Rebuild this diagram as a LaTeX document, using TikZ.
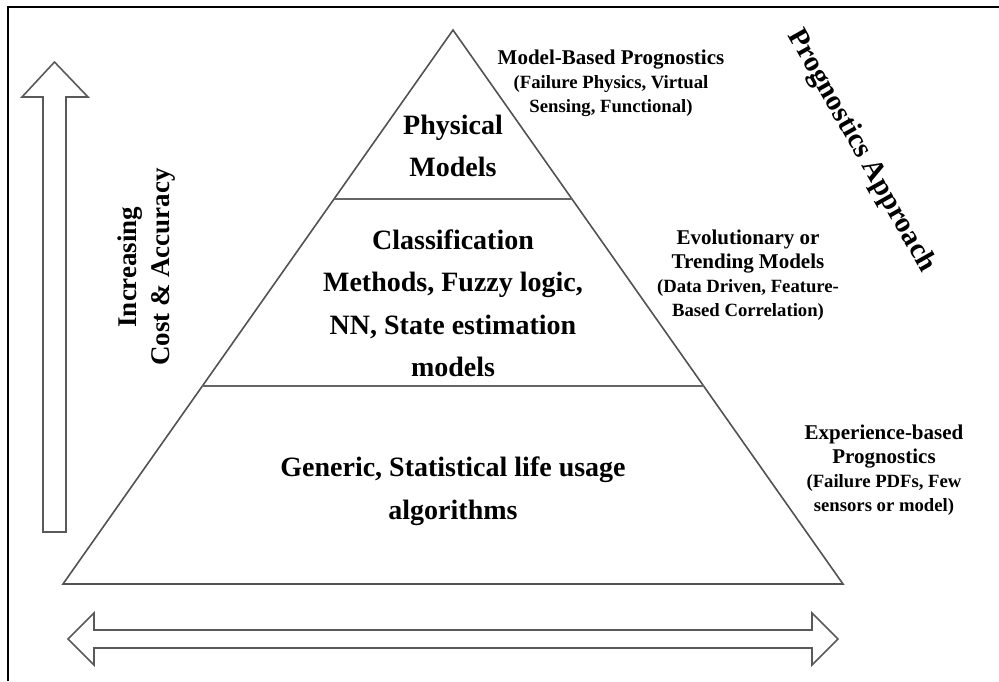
\documentclass[tikz,border=0pt]{standalone}
\usepackage{fontspec}
\setmainfont{Liberation Serif}
\usetikzlibrary{calc}
\newcommand\noteheadfont{\bfseries\fontsize{21}{24}\selectfont}
\begin{document}
\begin{tikzpicture}[x=1pt,y=-1pt,
  outline/.style={draw=black!68, line width=1.6pt, line join=miter},
  divider/.style={draw=black!60, line width=2.4pt},
  hollowarrow/.style={draw=black!65, line width=1.6pt, fill=white, line join=miter},
  frameline/.style={draw=black, line width=2.6pt},
  tier/.style={font=\bfseries\fontsize{28}{42.5}\selectfont, align=center, inner sep=0pt},
  note/.style={font=\bfseries\fontsize{18.7}{24}\selectfont, align=center, inner sep=0pt},
  sidelabel/.style={font=\bfseries\fontsize{27}{33}\selectfont, align=center, inner sep=0pt}]
\useasboundingbox (0,0) rectangle (999,681);

% frame
\draw[frameline] (8,681) -- (8,7) -- (999,7);

% pyramid
\coordinate (apex) at (453,30);
\coordinate (bl) at (63,584);
\coordinate (br) at (843,584);
\draw[outline] (apex) -- (br) -- (bl) -- cycle;
\coordinate (d1l) at ($(apex)!0.305!(bl)$);
\coordinate (d1r) at ($(apex)!0.305!(br)$);
\coordinate (d2l) at ($(apex)!0.6426!(bl)$);
\coordinate (d2r) at ($(apex)!0.6426!(br)$);
\draw[divider] (d1l) -- (d1r);
\draw[divider] (d2l) -- (d2r);

% tier texts
\node[tier] (top) at (453,146) {Physical\\Models};
\node[tier] (mid) at (453,303.5) {Classification\\Methods, Fuzzy logic,\\NN, State estimation\\models};
\node[tier] (low) at (453,491) {Generic, Statistical life usage\\algorithms};

% approach notes
\node[note] (nmodel) at (611,83) {{\noteheadfont Model-Based Prognostics}\\(Failure Physics, Virtual\\Sensing, Functional)};
\node[note] (ntrend) at (748,275) {{\noteheadfont Evolutionary or}\\{\noteheadfont Trending Models}\\(Data Driven, Feature-\\Based Correlation)};
\node[note] (nexp) at (884,470) {{\noteheadfont Experience-based}\\{\noteheadfont Prognostics}\\(Failure PDFs, Few\\sensors or model)};

% rotated labels
\node[font=\bfseries\fontsize{29}{33}\selectfont, inner sep=0pt, rotate=-60.5] (approach) at (861,151) {Prognostics Approach};
\node[sidelabel, rotate=90] (cost) at (146.5,267) {Increasing\\Cost \& Accuracy};

% vertical hollow arrow
\draw[hollowarrow] (43,532) -- (43,97) -- (22,97) -- (54.5,62) -- (88,97) -- (66,97) -- (66,532) -- cycle;

% horizontal double hollow arrow
\draw[hollowarrow] (68,639) -- (94,613) -- (94,630) -- (812,630) -- (812,613) -- (838,639)
  -- (812,665) -- (812,648) -- (94,648) -- (94,665) -- cycle;
\end{tikzpicture}
\end{document}
